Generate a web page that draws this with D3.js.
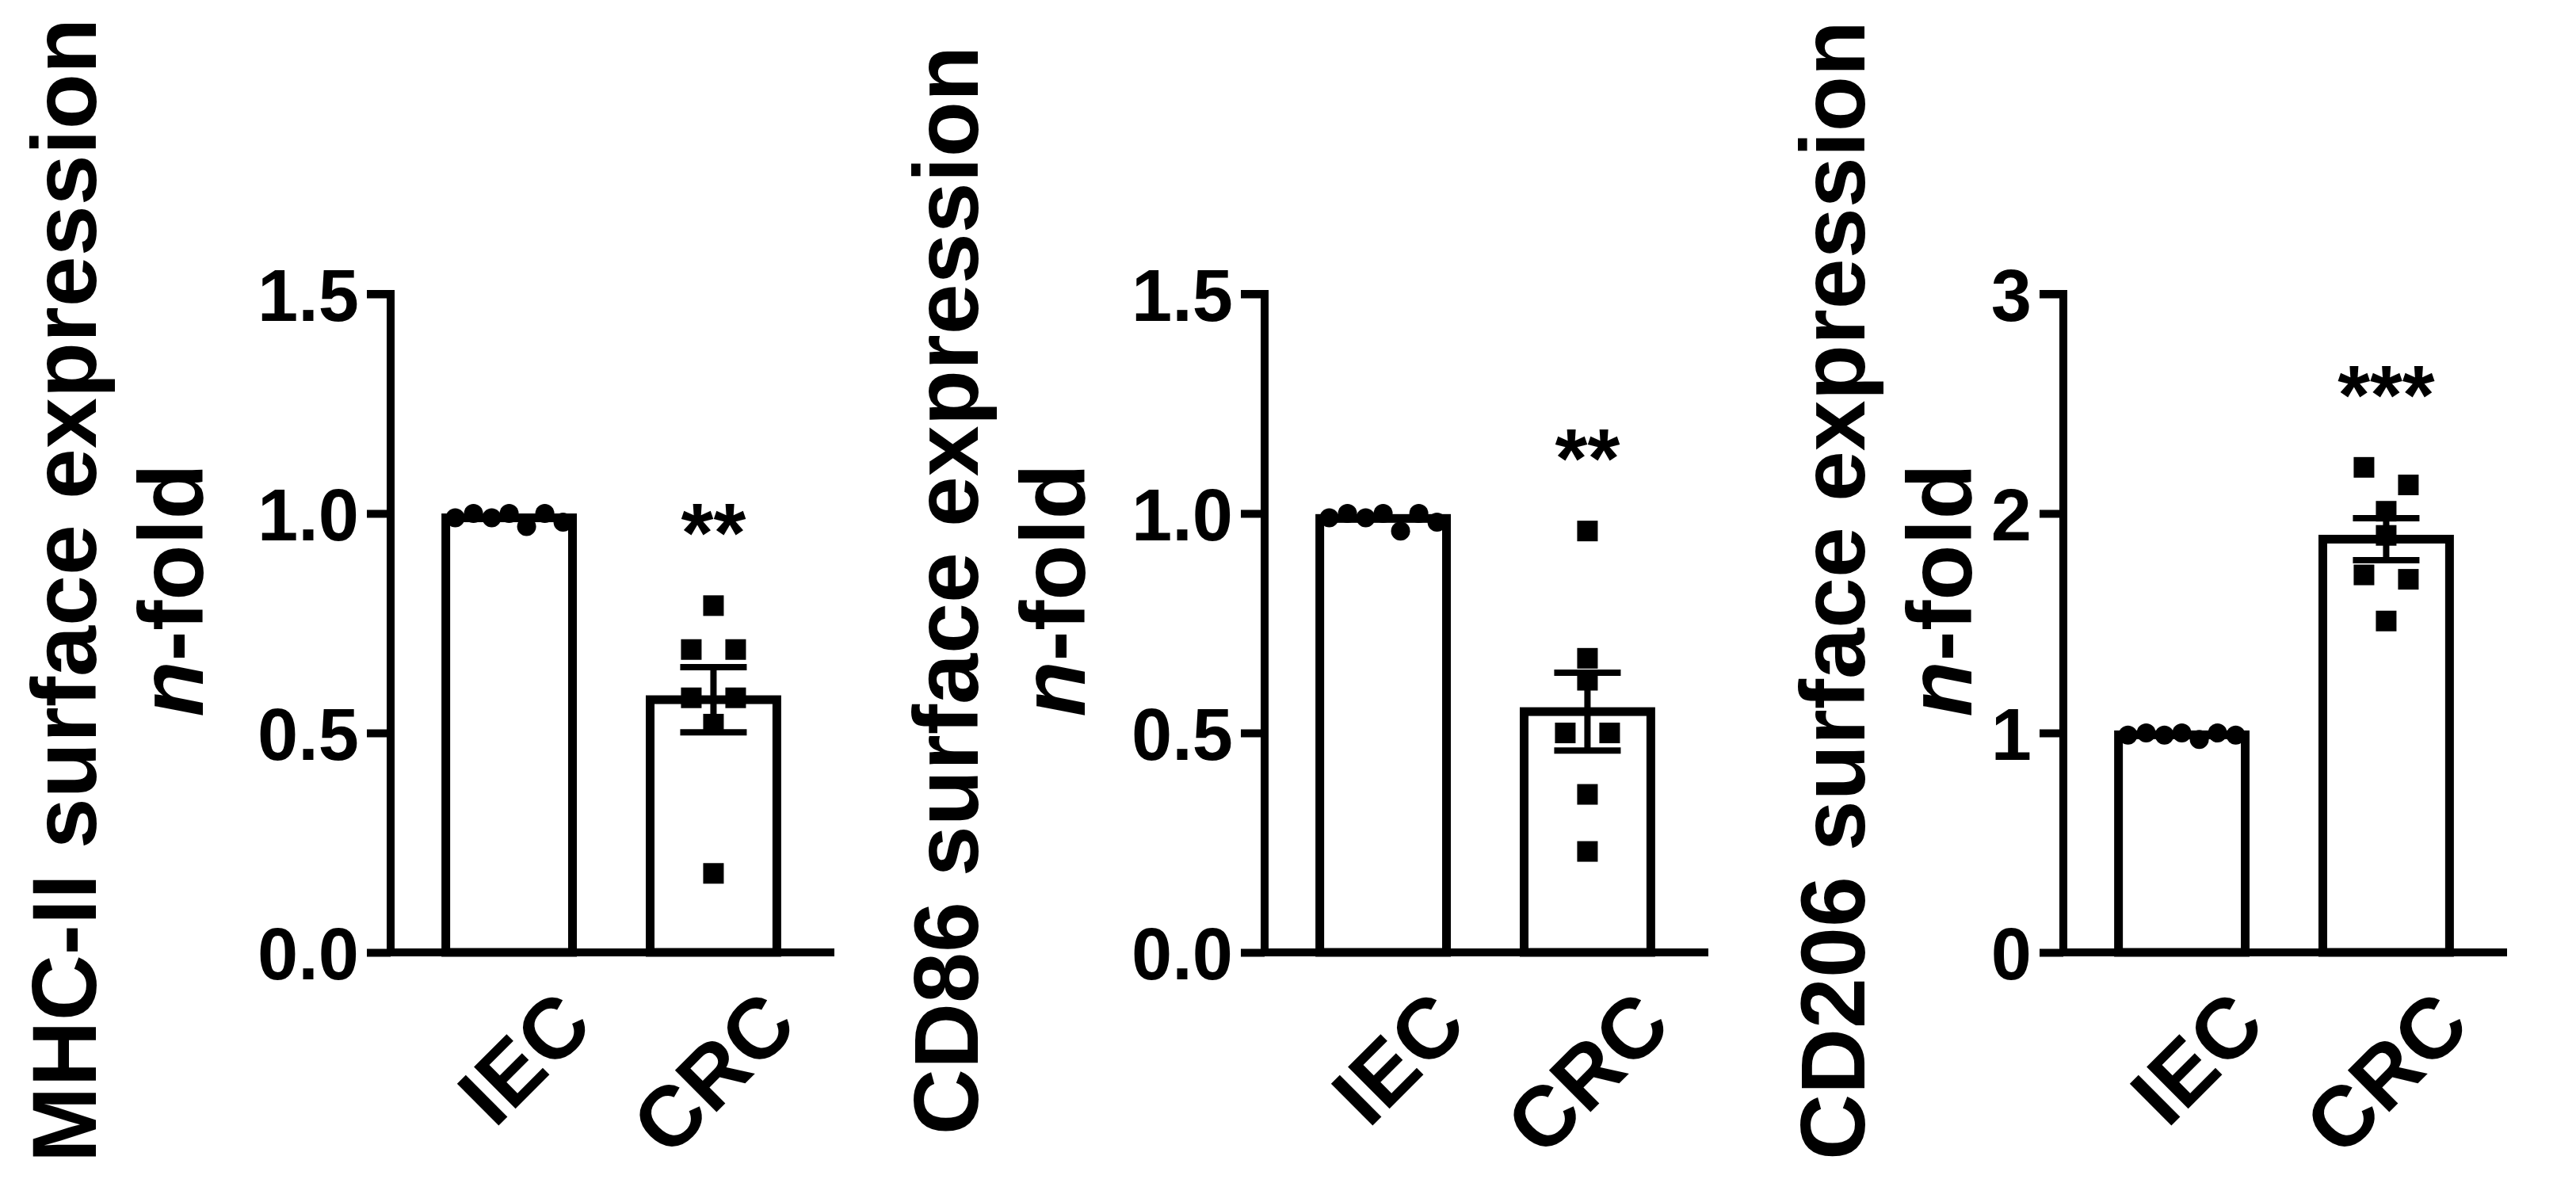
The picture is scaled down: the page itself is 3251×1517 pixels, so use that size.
<!DOCTYPE html>
<html>
<head>
<meta charset="utf-8">
<script src="https://cdn.jsdelivr.net/npm/d3@7"></script>
<style>
  body { margin: 0; background: #fff; }
  text { font-family: "Liberation Sans", Arial, sans-serif; font-weight: bold; }
</style>
</head>
<body>
<svg id="chart" width="3251" height="1517"></svg>
<script>
// data
const groups = ["IEC", "CRC"];
const titles = ["MHC-II surface expression", "CD86 surface expression", "CD206 surface expression"];
const stars = ["**", "**", "***"];
const yMax = [1.5, 1.5, 3];
const yTicks = [[0, 0.5, 1.0, 1.5], [0, 0.5, 1.0, 1.5], [0, 1, 2, 3]];
const tickFmt = [".1f", ".1f", "d"];

const iecMHC = [0.99, 1.0, 0.99, 1.0, 0.97, 1.0, 0.98];
const crcMHC = [0.79, 0.69, 0.69, 0.58, 0.58, 0.52, 0.18];
const iecCD86 = [0.99, 1.0, 0.99, 1.0, 0.96, 1.0, 0.98];
const crcCD86 = [0.96, 0.67, 0.62, 0.50, 0.50, 0.36, 0.23];
const iecCD206 = [0.99, 1.0, 0.99, 1.0, 0.97, 1.0, 0.99];
const crcCD206 = [2.21, 2.13, 2.01, 1.90, 1.72, 1.70, 1.51];

const series = [[iecMHC, crcMHC], [iecCD86, crcCD86], [iecCD206, crcCD206]];

// layout
const axisX = [493, 1596, 2604];
const titleOff = [414, 404, 293];
const yTop = 371, yBot = 1202, axisLen = 560;
const jitterIEC = [-68, -45, -22, 0, 22, 45, 68];
const jitterCRC = {0: [0, -28, 28, -28, 28, 0, 0], 1: [0, 0, 0, -28, 28, 0, 0], 2: [-28, 28, 0, 0, -28, 28, 0]};

const svg = d3.select("#chart");

series.forEach(function(pair, p) {
    const g = svg.append("g").attr("transform", "translate(" + axisX[p] + ",0)");

    const x = d3.scaleBand().domain(groups).range([0, 557]).paddingInner(0.38).paddingOuter(0.27);
    const y = d3.scaleLinear().domain([0, yMax[p]]).range([yBot, yTop]);

    // y axis
    const yAxis = d3.axisLeft(y).tickValues(yTicks[p]).tickFormat(d3.format(tickFmt[p])).tickSize(30).tickPadding(10);
    const ya = g.append("g").call(yAxis);
    ya.select(".domain").attr("stroke", "#000").attr("stroke-width", 10).attr("d", "M-30," + yTop + "H0V" + yBot);
    ya.selectAll(".tick line").attr("stroke", "#000").attr("stroke-width", 10);
    ya.selectAll(".tick text").attr("font-size", 92).attr("fill", "#000").attr("dy", "0.36em");

    // x axis line
    g.append("line").attr("x1", -5).attr("x2", axisLen).attr("y1", yBot).attr("y2", yBot)
        .attr("stroke", "#000").attr("stroke-width", 10);

    // x labels
    groups.forEach(function(name) {
        const cx = x(name) + x.bandwidth() / 2;
        g.append("text").attr("transform", "translate(" + (cx + 48) + "," + (yBot + 35) + ") rotate(-45)")
            .attr("text-anchor", "end").attr("dy", "0.8em").attr("font-size", 108).text(name);
    });

    pair.forEach(function(vals, i) {
        const name = groups[i];
        const mean = d3.mean(vals);
        const sem = d3.deviation(vals) / Math.sqrt(vals.length);
        const bx = x(name), bw = x.bandwidth(), cx = bx + bw / 2;

        g.append("rect").attr("x", bx).attr("y", y(mean)).attr("width", bw).attr("height", yBot - y(mean))
            .attr("fill", "none").attr("stroke", "#000").attr("stroke-width", 11);

        if (i === 0) {
            g.selectAll(null).data(vals).join("circle")
                .attr("cx", (d, k) => cx + jitterIEC[k]).attr("cy", d => y(d)).attr("r", 12).attr("fill", "#000");
        } else {
            g.selectAll(null).data(vals).join("rect")
                .attr("x", (d, k) => cx + jitterCRC[p][k] - 13).attr("y", d => y(d) - 13)
                .attr("width", 26).attr("height", 26).attr("fill", "#000");
            // error bar
            g.append("line").attr("x1", cx).attr("x2", cx).attr("y1", y(mean + sem)).attr("y2", y(mean - sem))
                .attr("stroke", "#000").attr("stroke-width", 8);
            [mean + sem, mean - sem].forEach(function(v) {
                g.append("line").attr("x1", cx - 42).attr("x2", cx + 42).attr("y1", y(v)).attr("y2", y(v))
                    .attr("stroke", "#000").attr("stroke-width", 8);
            });
            g.append("text").attr("x", cx).attr("y", y(d3.max(vals)) - 55).attr("text-anchor", "middle")
                .attr("font-size", 105).text(stars[p]);
        }
    });

    // y title
    const t = g.append("text").attr("transform", "translate(" + (-titleOff[p] + 2) + ",745) rotate(-90)")
        .attr("text-anchor", "middle").attr("font-size", 115);
    t.append("tspan").attr("x", 0).attr("dy", "0.35em").text(titles[p]);
    const t2 = t.append("tspan").attr("x", 0).attr("dy", "1.17em");
    t2.append("tspan").attr("font-style", "italic").text("n");
    t2.append("tspan").text("-fold");
});
</script>
</body>
</html>
